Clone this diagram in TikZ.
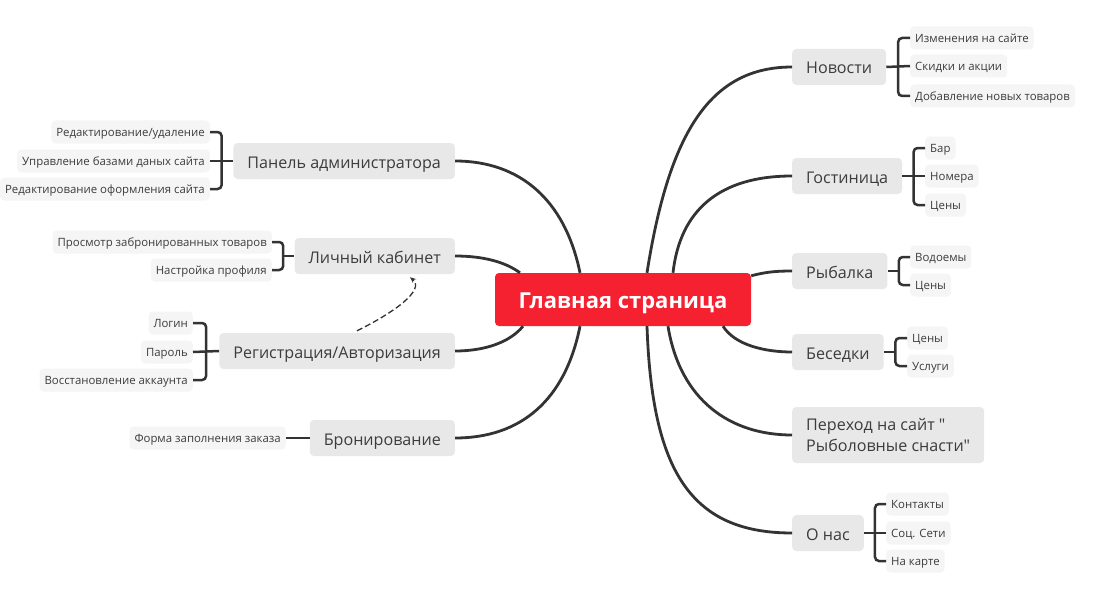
\documentclass[tikz,border=0pt]{standalone}
\usepackage{fontspec}
\setmainfont{Open Sans}
\newfontfamily\qfont{Open Sans}
\usetikzlibrary{arrows.meta,calc}
\definecolor{mainfill}{RGB}{232,232,232}
\definecolor{leaffill}{RGB}{245,245,245}
\definecolor{linec}{RGB}{51,51,51}
\definecolor{redc}{RGB}{245,32,48}
\definecolor{txt}{RGB}{60,60,60}
\begin{document}
\begin{tikzpicture}[x=1pt,y=-1pt,
  topic/.style={fill=mainfill, rounded corners=4pt, text=txt, font=\fontsize{16.1}{19}\selectfont, inner xsep=14pt, minimum height=36pt, text height=14pt, text depth=0pt},
  leaf/.style={fill=leaffill, rounded corners=4pt, text=txt, font=\fontsize{11.4}{14}\selectfont, inner xsep=5pt, minimum height=23pt, text height=9.4pt, text depth=0pt},
  conn/.style={draw=linec, line width=2.8pt},
  br/.style={draw=linec, line width=2.5pt, rounded corners=4pt},
  dasharrow/.style={draw=linec, line width=1.3pt, dash pattern=on 6pt off 3pt, -{Stealth[length=6pt,width=5pt]}}
]
\useasboundingbox (0,0) rectangle (1102,591);

% central
\node[fill=redc, rounded corners=4pt, minimum width=256pt, minimum height=53pt, text=white, font=\bfseries\fontsize{22}{26}\selectfont, text height=17.6pt, text depth=0pt] (main) at (623,299.5) {Главная страница};

% left topics
\node[topic, anchor=east] (pan) at (455,161) {Панель администратора};
\node[topic, anchor=east] (lk) at (455,256) {Личный кабинет};
\node[topic, anchor=east] (reg) at (455,351) {Регистрация/Авторизация};
\node[topic, anchor=east] (bron) at (455,438) {Бронирование};

% right topics
\node[topic, anchor=west] (nov) at (792,67) {Новости};
\node[topic, anchor=west] (gos) at (792,176) {Гостиница};
\node[topic, anchor=west] (ryb) at (792,271) {Рыбалка};
\node[topic, anchor=west] (bes) at (792,352) {Беседки};
\node[topic, anchor=west, align=left, minimum height=56pt, text height={}, text depth=0pt, font=\qfont\fontsize{16.1}{21}\selectfont] (per) at (792,435) {Переход на сайт "\\Рыболовные снасти"};
\node[topic, anchor=west] (onas) at (792,533) {О нас};

% left leaves
\node[leaf, anchor=east] (p1) at (210,132) {Редактирование/удаление};
\node[leaf, anchor=east] (p2) at (210,161) {Управление базами даных сайта};
\node[leaf, anchor=east] (p3) at (210,189) {Редактирование оформления сайта};
\node[leaf, anchor=east] (k1) at (272,242) {Просмотр забронированных товаров};
\node[leaf, anchor=east] (k2) at (272,270) {Настройка профиля};
\node[leaf, anchor=east] (g1) at (193,323) {Логин};
\node[leaf, anchor=east] (g2) at (193,352) {Пароль};
\node[leaf, anchor=east] (g3) at (193,380) {Восстановление аккаунта};
\node[leaf, anchor=east] (b1) at (286,438) {Форма заполнения заказа};

% right leaves
\node[leaf, anchor=west] (n1) at (910,38) {Изменения на сайте};
\node[leaf, anchor=west] (n2) at (910,66) {Скидки и акции};
\node[leaf, anchor=west] (n3) at (910,96) {Добавление новых товаров};
\node[leaf, anchor=west] (h1) at (925,148) {Бар};
\node[leaf, anchor=west] (h2) at (925,176) {Номера};
\node[leaf, anchor=west] (h3) at (925,205) {Цены};
\node[leaf, anchor=west] (f1) at (910,257) {Водоемы};
\node[leaf, anchor=west] (f2) at (910,285) {Цены};
\node[leaf, anchor=west] (s1) at (907,338) {Цены};
\node[leaf, anchor=west] (s2) at (907,366) {Услуги};
\node[leaf, anchor=west] (o1) at (886,504) {Контакты};
\node[leaf, anchor=west] (o2) at (886,533) {Соц. Сети};
\node[leaf, anchor=west] (o3) at (886,561) {На карте};

% main curves, left
\draw[conn] ([xshift=-43pt]main.north) .. controls +(-15,-73) and +(65,0) .. (pan.east);
\draw[conn] ([xshift=-103pt]main.north) .. controls +(-15,-11) and +(28,0) .. (lk.east);
\draw[conn] ([xshift=-100pt]main.south) .. controls +(-13,16) and +(30,0) .. (reg.east);
\draw[conn] ([xshift=-43pt]main.south) .. controls +(-15,75) and +(65,0) .. (bron.east);
% main curves, right
\draw[conn] ([xshift=24pt]main.north) .. controls +(22,-140) and +(-82,0) .. (nov.west);
\draw[conn] ([xshift=50pt]main.north) .. controls +(7,-63) and +(-72,0) .. (gos.west);
\draw[conn] ([yshift=-3pt]main.north east) .. controls +(15,-4) and +(-15,0) .. (ryb.west);
\draw[conn] ([xshift=100pt]main.south) .. controls +(12,19) and +(-27,0) .. (bes.west);
\draw[conn] ([xshift=45pt]main.south) .. controls +(12,74) and +(-62,0) .. (per.west);
\draw[conn] ([xshift=24pt]main.south) .. controls +(5,144) and +(-102,0) .. (onas.west);

% brackets left
\coordinate (pm) at ($(pan.west)!0.5!(p2.east)$);
\draw[br] (p1.east) -| (pm) |- (p3.east);
\draw[br] (p2.east) -- (pan.west);
\coordinate (km) at ($(lk.west)!0.5!(lk.west -| k1.east)$);
\draw[br] (k1.east) -| (km) |- (k2.east);
\draw[br] (km) -- (lk.west);
\coordinate (gm) at ($(reg.west)!0.5!(g2.east)$);
\draw[br] (g1.east) -| (gm) |- (g3.east);
\draw[br] (g2.east) -- (reg.west);
\draw[br] (b1.east) -- (bron.west);

% brackets right
\coordinate (nm) at ($(nov.east)!0.5!(n2.west)$);
\draw[br] (n1.west) -| (nm) |- (n3.west);
\draw[br] (n2.west) -- (nov.east);
\coordinate (hm) at ($(gos.east)!0.5!(h2.west)$);
\draw[br] (h1.west) -| (hm) |- (h3.west);
\draw[br] (h2.west) -- (gos.east);
\coordinate (fm) at ($(ryb.east)!0.5!(ryb.east -| f1.west)$);
\draw[br] (f1.west) -| (fm) |- (f2.west);
\draw[br] (fm) -- (ryb.east);
\coordinate (sm) at ($(bes.east)!0.5!(bes.east -| s1.west)$);
\draw[br] (s1.west) -| (sm) |- (s2.west);
\draw[br] (sm) -- (bes.east);
\coordinate (om) at ($(onas.east)!0.5!(o2.west)$);
\draw[br] (o1.west) -| (om) |- (o3.west);
\draw[br] (o2.west) -- (onas.east);

% dashed relation
\coordinate (da) at ([xshift=-98pt,yshift=2pt]reg.north east);
\coordinate (db) at ([xshift=-45pt,yshift=-3pt]lk.south east);
\draw[dasharrow] (da) .. controls (395,312) and (425,290) .. (db);
\end{tikzpicture}
\end{document}
